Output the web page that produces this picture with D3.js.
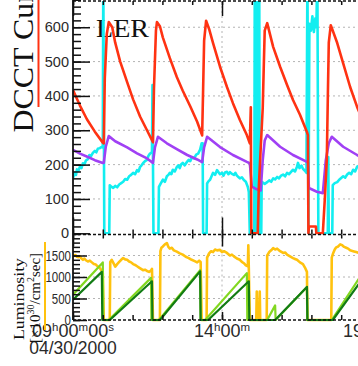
<!DOCTYPE html>
<html><head><meta charset="utf-8">
<script src="https://cdn.jsdelivr.net/npm/d3@7"></script>
<style>
html,body{margin:0;padding:0;background:#fff;overflow:hidden}
svg{display:block}
</style></head><body>
<svg id="chart" width="358" height="366"></svg>
<script>
// [time of day, value]  -- DCCT currents in mA
const lerCurrent = [["09:00",417],["09:14",372],["09:28",332],["09:44",296],["10:00",264],["10:02",262],["10:04",450],["10:08",580],["10:12",615],["10:19",600],["10:25",555],["10:35",500],["10:49",440],["11:01",390],["11:15",340],["11:29",300],["11:41",265],["11:43",420],["11:47",590],["11:49",615],["11:55",603],["12:01",570],["12:15",510],["12:29",455],["12:41",415],["12:56",370],["13:10",325],["13:20",285],["13:22",420],["13:24",560],["13:28",619],["13:34",595],["13:42",554],["13:56",485],["14:10",426],["14:22",379],["14:36",330],["14:50",286],["14:56",262],["14:58",367],["14:59",0],["15:12",0],["15:14",130],["15:18",250],["15:22",365],["15:24",480],["15:26",590],["15:31",612],["15:43",543],["15:57",485],["16:11",432],["16:23",388],["16:37",345],["16:51",295],["16:53",286],["16:54",0],["16:55",20],["17:09",20],["17:10",0],["17:23",0],["17:27",100],["17:31",215],["17:33",390],["17:35",555],["17:39",606],["17:52",554],["18:04",495],["18:18",426],["18:32",368],["18:40",340]];

const herCurrent = [["09:00",243],["09:14",232],["09:30",222],["09:44",213],["10:00",205],["10:02",205],["10:06",252],["10:12",283],["10:25",268],["10:49",250],["11:09",233],["11:29",218],["11:41",205],["11:45",250],["11:51",281],["12:09",262],["12:29",245],["12:50",228],["13:10",215],["13:20",207],["13:24",250],["13:30",281],["13:56",251],["14:22",228],["14:50",208],["14:56",204],["15:00",136],["15:10",128],["15:18",125],["15:22",213],["15:26",270],["15:31",286],["15:57",252],["16:23",228],["16:51",208],["16:53",206],["16:55",132],["17:11",121],["17:23",117],["17:29",213],["17:35",262],["17:41",281],["18:04",252],["18:32",228],["18:40",222]];

const auxCurrent = [["09:00",160],["09:03",176],["09:06",170],["09:08",186],["09:11",182],["09:14",194],["09:17",190],["09:20",204],["09:23",200],["09:26",212],["09:30",216],["09:33",228],["09:36",224],["09:40",234],["09:44",240],["09:47",236],["09:50",246],["09:54",248],["09:58",252],["10:00",250],["10:01",760],["10:03",0],["10:13",0],
  ["10:14",140],["10:17",136],["10:21",132],["10:25",138],["10:29",134],["10:33",142],["10:37",146],["10:41",150],["10:45",158],["10:49",156],["10:53",166],["10:57",170],["11:01",176],["11:05",172],["11:09",184],["11:12",180],["11:15",193],["11:18",198],["11:21",204],["11:25",210],["11:29",214],["11:32",226],["11:35",232],["11:39",237],["11:40",432],["11:42",0],["11:52",0],
  ["11:53",135],["11:57",146],["12:01",156],["12:05",150],["12:09",166],["12:12",170],["12:15",176],["12:18",172],["12:21",185],["12:25",180],["12:29",193],["12:32",198],["12:35",190],["12:38",201],["12:41",205],["12:45",198],["12:50",209],["12:53",214],["12:56",210],["13:00",222],["13:04",218],["13:08",229],["13:12",232],["13:16",244],["13:19",262],["13:21",262],["13:22",0],["13:29",0],
  ["13:30",145],["13:33",152],["13:36",156],["13:39",166],["13:42",176],["13:46",170],["13:50",184],["13:53",178],["13:56",172],["14:00",176],["14:03",168],["14:06",177],["14:10",179],["14:13",172],["14:16",178],["14:20",173],["14:24",170],["14:27",176],["14:30",168],["14:33",164],["14:36",160],["14:40",163],["14:44",155],["14:48",150],["14:52",135],["14:54",120],["14:56",0],["15:05",0],["15:06",760],["15:09",760],["15:10",0],["15:11",0],["15:12",760],["15:15",760],["15:16",0],["15:19",0],
  ["15:20",150],["15:26",144],["15:31",149],["15:35",154],["15:39",150],["15:43",160],["15:47",157],["15:51",164],["15:55",160],["15:59",168],["16:03",171],["16:07",166],["16:11",176],["16:15",172],["16:19",179],["16:23",185],["16:27",180],["16:31",194],["16:33",205],["16:36",190],["16:40",197],["16:43",188],["16:47",182],["16:50",176],["16:52",760],["16:54",0],["16:56",610],["16:59",590],["17:02",632],["17:05",586],["17:08",626],["17:10",600],["17:12",760],["17:14",0],["17:33",0],["17:34",222],["17:35",0],["17:42",0],
  ["17:43",140],["17:47",146],["17:52",149],["17:56",156],["18:00",161],["18:04",166],["18:08",162],["18:12",171],["18:16",176],["18:20",172],["18:24",185],["18:28",180],["18:32",194],["18:40",199]];

// luminosity [x10^30 /cm^2/sec] and integrated luminosity ramps
const luminosity = [["09:00",1530],["09:02",1490],["09:05",1510],["09:08",1470],["09:11",1460],["09:14",1480],["09:17",1430],["09:20",1400],["09:23",1430],["09:26",1390],["09:30",1360],["09:34",1380],["09:38",1340],["09:42",1300],["09:46",1290],["09:50",1240],["09:54",1210],["09:58",1140],["10:00",1090],["10:02",0],["10:14",0],
  ["10:15",1350],["10:18",1400],["10:22",1310],["10:25",1240],["10:29",1300],["10:33",1350],["10:37",1400],["10:41",1440],["10:45",1410],["10:49",1400],["10:53",1360],["10:57",1340],["11:01",1300],["11:05",1280],["11:09",1250],["11:13",1220],["11:17",1190],["11:21",1160],["11:25",1170],["11:29",1140],["11:33",1120],["11:37",1150],["11:39",1190],["11:41",0],["11:55",0],
  ["11:56",1600],["11:58",1680],["12:01",1710],["12:05",1760],["12:09",1790],["12:12",1700],["12:15",1660],["12:19",1680],["12:23",1620],["12:29",1590],["12:35",1550],["12:41",1520],["12:47",1470],["12:53",1440],["12:59",1400],["13:05",1370],["13:10",1340],["13:14",1380],["13:17",1350],["13:19",0],["13:29",0],
  ["13:30",1450],["13:34",1550],["13:38",1600],["13:42",1580],["13:46",1640],["13:50",1620],["13:56",1630],["14:00",1580],["14:04",1600],["14:10",1560],["14:16",1500],["14:20",1520],["14:24",1480],["14:30",1430],["14:36",1400],["14:40",1350],["14:44",1320],["14:48",1270],["14:52",1250],["14:53",1740],["14:54",1200],["14:56",0],["15:09",0],["15:10",660],["15:11",0],["15:15",0],["15:16",660],["15:17",0],["15:30",0],
  ["15:31",1500],["15:35",1580],["15:39",1620],["15:43",1670],["15:47",1640],["15:51",1660],["15:57",1600],["16:03",1560],["16:07",1570],["16:11",1520],["16:17",1480],["16:23",1440],["16:27",1420],["16:31",1400],["16:37",1340],["16:43",1300],["16:47",1220],["16:51",1120],["16:52",0],["17:40",0],
  ["17:41",1450],["17:44",1560],["17:47",1640],["17:50",1690],["17:54",1710],["17:58",1760],["18:02",1740],["18:06",1700],["18:10",1680],["18:14",1660],["18:18",1620],["18:24",1600],["18:30",1580],["18:40",1540]];

const intLumiDelivered = [["09:00",590],["10:00",1340],["10:01",0],["10:12",0],["11:37",980],["11:38",0],["11:53",0],["13:16",1160],["13:17",0],["13:26",0],["14:50",1090],["14:51",0],["15:31",0],["15:47",340],["15:48",0],["16:51",770],["16:52",0],["17:41",0],["18:40",1040]];
const intLumiRecorded = [["09:00",470],["09:58",1120],["09:59",0],["10:14",0],["11:39",900],["11:40",0],["11:55",0],["13:16",1130],["13:17",0],["13:32",0],["14:54",900],["14:55",0],["15:47",0],["16:51",770],["16:52",0],["17:43",0],["18:40",907]];

const currentTicks = [0, 100, 200, 300, 400, 500, 600, 700];
const lumiTicks = [0, 500, 1000, 1500];
const majorTimes = ["09:00", "14:00", "19:00"];
const dateLabel = "04/30/2000";

const parseT = d3.timeParse("%H:%M");
const svg = d3.select("#chart");
const sans = "'Liberation Sans', Arial, sans-serif";
const serif = "'Liberation Serif', 'Times New Roman', serif";

const x = d3.scaleTime().domain([parseT("09:00"), parseT("19:00")]).range([73, 371]);
const yTop = d3.scaleLinear().domain([0, 700]).range([233.3, -7.1]);
const yBot = d3.scaleLinear().domain([0, 2000]).range([320, 234]);

const topY0 = 1, midY = 234.5, botY1 = 320, left = 73, right = 358;

const defs = svg.append("defs");
defs.append("clipPath").attr("id", "clipTop").append("rect")
  .attr("x", left).attr("y", topY0).attr("width", 300).attr("height", midY - topY0);
defs.append("clipPath").attr("id", "clipBot").append("rect")
  .attr("x", left).attr("y", midY).attr("width", 300).attr("height", botY1 - midY + 2.5);

// grid
const grid = svg.append("g").attr("stroke", "#b4b4b4").attr("stroke-width", 1).attr("stroke-dasharray", "2,3");
currentTicks.filter(v => v > 0).forEach(v => grid.append("line")
  .attr("x1", left).attr("x2", right).attr("y1", yTop(v)).attr("y2", yTop(v)));
lumiTicks.filter(v => v > 0).forEach(v => grid.append("line")
  .attr("x1", left).attr("x2", right).attr("y1", yBot(v)).attr("y2", yBot(v)));
majorTimes.slice(1).forEach(t => {
  grid.append("line").attr("x1", x(parseT(t))).attr("x2", x(parseT(t))).attr("y1", topY0).attr("y2", midY);
  grid.append("line").attr("x1", x(parseT(t))).attr("x2", x(parseT(t))).attr("y1", midY).attr("y2", botY1);
});

// "LER" label (under data)
svg.append("text").attr("x", 96).attr("y", 37).attr("font-family", serif).attr("font-size", 26)
  .attr("textLength", 53).attr("lengthAdjust", "spacingAndGlyphs").attr("fill", "#111").text("LER");

function drawSeries(g, data, y, color, width) {
  const line = d3.line().x(d => x(parseT(d[0]))).y(d => y(d[1]));
  g.append("path").datum(data).attr("d", line).attr("fill", "none")
    .attr("stroke", color).attr("stroke-width", width).attr("stroke-linejoin", "round");
}

const gTop = svg.append("g").attr("clip-path", "url(#clipTop)");
drawSeries(gTop, auxCurrent, yTop, "#12eef0", 2.6);
drawSeries(gTop, herCurrent, yTop, "#a040f4", 2.6);
drawSeries(gTop, lerCurrent, yTop, "#ff3212", 2.6);

const gBot = svg.append("g").attr("clip-path", "url(#clipBot)");
drawSeries(gBot, luminosity, yBot, "#ffc20e", 2.6);
drawSeries(gBot, intLumiDelivered, yBot, "#82d820", 2.2);
drawSeries(gBot, intLumiRecorded, yBot, "#127c14", 2.2);

// axes
const hours = d3.timeHour.range(parseT("09:00"), parseT("19:30"));
const majors = majorTimes.map(parseT);
function xTicks(axisFn, yPos, minorLen, majorLen) {
  const g1 = svg.append("g").attr("transform", `translate(0,${yPos})`)
    .call(axisFn(x).tickValues(hours).tickSize(minorLen).tickFormat(""));
  const g2 = svg.append("g").attr("transform", `translate(0,${yPos})`)
    .call(axisFn(x).tickValues(majors).tickSize(majorLen).tickFormat(""));
  [g1, g2].forEach(g => { g.select(".domain").remove(); g.selectAll("line").attr("stroke", "#111").attr("stroke-width", 1.5); });
}
xTicks(d3.axisBottom, topY0, 4, 15);
xTicks(d3.axisTop, midY, 5, 17);
xTicks(d3.axisBottom, midY, 4, 12);
xTicks(d3.axisTop, botY1, 5, 8);

// dashed horizontal frame lines
[topY0, midY, botY1].forEach(yy => svg.append("line")
  .attr("x1", left).attr("x2", right).attr("y1", yy).attr("y2", yy)
  .attr("stroke", "#111").attr("stroke-width", 1.5).attr("stroke-dasharray", "3,2"));

// y axes: ticks inside
function yTicks(scale, values, len) {
  const g = svg.append("g").attr("transform", `translate(${left},0)`)
    .call(d3.axisRight(scale).tickValues(values).tickSize(len).tickFormat(""));
  g.select(".domain").remove();
  g.selectAll("line").attr("stroke", "#111").attr("stroke-width", 1.5);
}
yTicks(yTop, d3.range(0, 701, 20), 8);
yTicks(yTop, currentTicks, 17);
yTicks(yBot, d3.range(0, 2001, 100), 7);
yTicks(yBot, lumiTicks, 14);

svg.append("line").attr("x1", left).attr("x2", left).attr("y1", 0).attr("y2", botY1)
  .attr("stroke", "#111").attr("stroke-width", 1.8);

// y tick labels
const gl1 = svg.append("g").attr("transform", `translate(${left},0)`)
  .call(d3.axisLeft(yTop).tickValues(currentTicks).tickSize(0).tickPadding(4).tickFormat(d3.format("d")));
gl1.select(".domain").remove();
gl1.selectAll("text").attr("font-family", sans).attr("font-size", 14.5).attr("fill", "#2a2a2a");

const gl2 = svg.append("g").attr("transform", `translate(${left},0)`)
  .call(d3.axisLeft(yBot).tickValues(lumiTicks).tickSize(0).tickPadding(2).tickFormat(d3.format("d")));
gl2.select(".domain").remove();
gl2.selectAll("text").attr("font-family", sans).attr("font-size", 15).attr("fill", "#2a2a2a")
  .attr("textLength", d => String(d).length * 6.4).attr("lengthAdjust", "spacingAndGlyphs");

// time labels with superscript units
const fmtH = d3.timeFormat("%H"), fmtM = d3.timeFormat("%M"), fmtS = d3.timeFormat("%S");
majors.forEach((d, i) => {
  const parts = [[fmtH(d), false], ["h", true], [fmtM(d), false], ["m", true]];
  if (i === 0) parts.push([fmtS(d), false], ["s", true]);
  const txt = svg.append("text").attr("x", x(d)).attr("y", 337).attr("text-anchor", "middle")
    .attr("font-family", sans).attr("font-size", 18).attr("fill", "#2a2a2a");
  let raised = false;
  parts.forEach(([s, sup]) => {
    const ts = txt.append("tspan").text(s);
    if (sup) { ts.attr("font-size", 11.5).attr("dy", raised ? 0 : -6); raised = true; }
    else { ts.attr("dy", raised ? 6 : 0); raised = false; }
  });
});
svg.append("text").attr("x", x(majors[0])).attr("y", 353.5).attr("text-anchor", "middle")
  .attr("font-family", sans).attr("font-size", 17.5).attr("fill", "#2a2a2a").text(dateLabel);

// axis titles with colour keys
svg.append("text").attr("transform", "translate(33,132.5) rotate(-90)")
  .attr("font-family", serif).attr("font-size", 30).attr("fill", "#111")
  .attr("textLength", 190).attr("lengthAdjust", "spacingAndGlyphs").text("DCCT Current");
svg.append("line").attr("x1", 38.5).attr("x2", 38.5).attr("y1", 0).attr("y2", 107)
  .attr("stroke", "#ff3212").attr("stroke-width", 2);

svg.append("text").attr("transform", "translate(23.5,340) rotate(-90)")
  .attr("font-family", serif).attr("font-size", 15).attr("fill", "#111")
  .attr("textLength", 82).attr("lengthAdjust", "spacingAndGlyphs").text("Luminosity");
const unit = svg.append("text").attr("transform", "translate(40,343) rotate(-90)")
  .attr("font-family", serif).attr("font-size", 15).attr("fill", "#111");
unit.append("tspan").text("[\u00d710");
unit.append("tspan").attr("font-size", 10).attr("dy", -6).text("30");
unit.append("tspan").attr("dy", 6).text("/cm");
unit.append("tspan").attr("font-size", 10).attr("dy", -6).text("2");
unit.append("tspan").attr("dy", 6).text("sec]");
svg.append("line").attr("x1", 45).attr("x2", 45).attr("y1", 242).attr("y2", 330)
  .attr("stroke", "#ffc20e").attr("stroke-width", 2);
</script>
</body></html>
